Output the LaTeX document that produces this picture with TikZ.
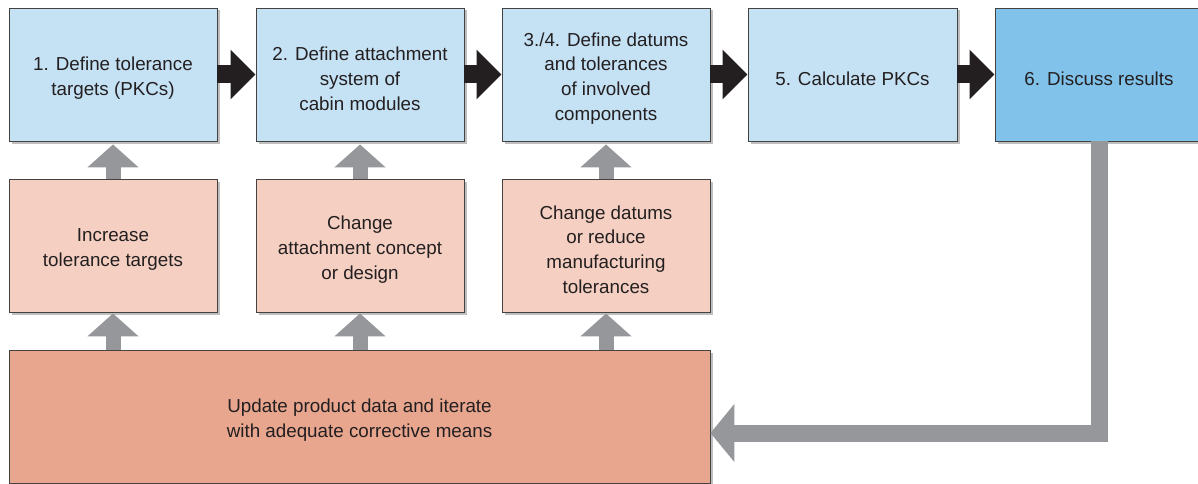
\documentclass[tikz,border=0pt]{standalone}
\usepackage{fontspec}
\setmainfont{Liberation Sans}
\usetikzlibrary{arrows.meta,calc,shadows}
\definecolor{stepblue}{HTML}{C5E1F4}
\definecolor{finalblue}{HTML}{80C2EA}
\definecolor{actpeach}{HTML}{F5D0C2}
\definecolor{loopsalmon}{HTML}{E8A68F}
\definecolor{flowgray}{HTML}{96979B}
\definecolor{flowblack}{HTML}{231F20}
\definecolor{inkgray}{HTML}{231F20}
\begin{document}
\begin{tikzpicture}[x=1pt,y=-1pt,
  boxtext/.style={align=center,inner sep=0pt,text=inkgray,yshift=-4pt,
    font=\fontsize{18.8pt}{24.8pt}\selectfont},
  box/.style={draw=inkgray!85,line width=0.9pt,minimum width=208pt,minimum height=133pt,
    label={[boxtext]center:{#1}},
    drop shadow={shadow xshift=2.5pt,shadow yshift=-2.5pt,opacity=0.25,fill=black}},
  stepbox/.style={box={#1},fill=stepblue},
  endbox/.style={box={#1},fill=finalblue},
  fixbox/.style={box={#1},fill=actpeach},
  loopbox/.style={box={#1},fill=loopsalmon,minimum width=701pt},
  fwd/.style={draw=flowblack,line width=18pt,-{Triangle[width=48pt,length=25pt]}},
  up/.style={draw=flowgray,line width=15pt,-{Triangle[width=50pt,length=23pt]}},
  back/.style={draw=flowgray,line width=17pt,line join=miter,-{Triangle[width=57pt,length=24pt]}}]
\useasboundingbox (0,0) rectangle (1198,484);
\clip (0,0) rectangle (1198,484);

% process steps
\node[stepbox={1. Define tolerance\\targets (PKCs)}] (t1) at (113,74.5) {};
\node[stepbox={2. Define attachment\\system of\\cabin modules}] (t2) at (360,74.5) {};
\node[stepbox={3./4. Define datums\\and tolerances\\of involved\\components}] (t3) at (606,74.5) {};
\node[stepbox={5. Calculate PKCs},minimum width=209pt] (t4) at (852.5,74.5) {};
\node[endbox={6. Discuss results}] (t5) at (1099,74.5) {};

% corrective actions
\node[fixbox={Increase\\tolerance targets}] (m1) at (113,245.5) {};
\node[fixbox={Change\\attachment concept\\or design}] (m2) at (360,245.5) {};
\node[fixbox={Change datums\\or reduce\\manufacturing\\tolerances}] (m3) at (606,245.5) {};

% iteration
\node[loopbox={Update product data and iterate\\with adequate corrective means}] (loop) at (359.5,416.5) {};

% forward flow
\draw[fwd] (t1.east) -- (t2.west);
\draw[fwd] (t2.east) -- (t3.west);
\draw[fwd] (t3.east) -- (t4.west);
\draw[fwd] (t4.east) -- (t5.west);

% upward flow
\foreach \i in {1,2,3}{
  \draw[up] (m\i.north) -- ($(t\i.south)+(0,3)$);
  \draw[up] (loop.north -| m\i.south) -- ($(m\i.south)+(0,1)$);
}

% feedback loop
\draw[back] (t5.south) |- ($(loop.east)+(0,16.5)$);
\end{tikzpicture}
\end{document}
